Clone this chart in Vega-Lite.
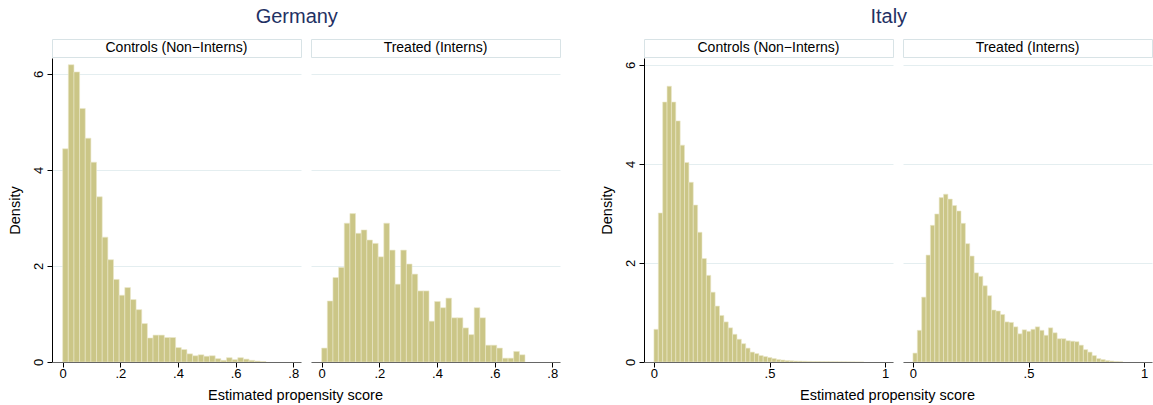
{
  "$schema": "https://vega.github.io/schema/vega-lite/v6.json",
  "background": "white",
  "padding": {"left": 7, "top": 6, "right": 0, "bottom": 2},
  "config": {
    "font": "Liberation Sans",
    "view": {"stroke": null},
    "axis": {
      "labelFont": "Liberation Sans", "titleFont": "Liberation Sans",
      "labelFontSize": 13, "titleFontSize": 14.5, "titleFontWeight": "normal",
      "labelColor": "#000000", "titleColor": "#000000",
      "tickColor": "#000000", "domainColor": "#000000", "tickSize": 5,
      "gridColor": "#e4eef0", "gridWidth": 1, "labelFlush": false, "labelOverlap": false
    },
    "title": {"font": "Liberation Sans", "fontSize": 20, "fontWeight": "normal", "color": "#1f3164"}
  },
  "datasets": {
    "hist": [
      {"country": "Germany", "group": "Controls", "bin_start": 0, "bin_end": 0.0196, "density": 4.44},
      {"country": "Germany", "group": "Controls", "bin_start": 0.0196, "bin_end": 0.0392, "density": 6.19},
      {"country": "Germany", "group": "Controls", "bin_start": 0.0392, "bin_end": 0.0588, "density": 6.04},
      {"country": "Germany", "group": "Controls", "bin_start": 0.0588, "bin_end": 0.0784, "density": 5.28},
      {"country": "Germany", "group": "Controls", "bin_start": 0.0784, "bin_end": 0.098, "density": 4.66},
      {"country": "Germany", "group": "Controls", "bin_start": 0.098, "bin_end": 0.1176, "density": 4.16},
      {"country": "Germany", "group": "Controls", "bin_start": 0.1176, "bin_end": 0.1372, "density": 3.44},
      {"country": "Germany", "group": "Controls", "bin_start": 0.1372, "bin_end": 0.1568, "density": 2.6},
      {"country": "Germany", "group": "Controls", "bin_start": 0.1568, "bin_end": 0.1764, "density": 2.13},
      {"country": "Germany", "group": "Controls", "bin_start": 0.1764, "bin_end": 0.196, "density": 1.72},
      {"country": "Germany", "group": "Controls", "bin_start": 0.196, "bin_end": 0.2156, "density": 1.39},
      {"country": "Germany", "group": "Controls", "bin_start": 0.2156, "bin_end": 0.2352, "density": 1.55},
      {"country": "Germany", "group": "Controls", "bin_start": 0.2352, "bin_end": 0.2548, "density": 1.3},
      {"country": "Germany", "group": "Controls", "bin_start": 0.2548, "bin_end": 0.2744, "density": 1.09},
      {"country": "Germany", "group": "Controls", "bin_start": 0.2744, "bin_end": 0.294, "density": 0.8},
      {"country": "Germany", "group": "Controls", "bin_start": 0.294, "bin_end": 0.3136, "density": 0.5},
      {"country": "Germany", "group": "Controls", "bin_start": 0.3136, "bin_end": 0.3332, "density": 0.56},
      {"country": "Germany", "group": "Controls", "bin_start": 0.3332, "bin_end": 0.3528, "density": 0.56},
      {"country": "Germany", "group": "Controls", "bin_start": 0.3528, "bin_end": 0.3724, "density": 0.51},
      {"country": "Germany", "group": "Controls", "bin_start": 0.3724, "bin_end": 0.392, "density": 0.51},
      {"country": "Germany", "group": "Controls", "bin_start": 0.392, "bin_end": 0.4116, "density": 0.3},
      {"country": "Germany", "group": "Controls", "bin_start": 0.4116, "bin_end": 0.4312, "density": 0.26},
      {"country": "Germany", "group": "Controls", "bin_start": 0.4312, "bin_end": 0.4508, "density": 0.17},
      {"country": "Germany", "group": "Controls", "bin_start": 0.4508, "bin_end": 0.4704, "density": 0.13},
      {"country": "Germany", "group": "Controls", "bin_start": 0.4704, "bin_end": 0.49, "density": 0.15},
      {"country": "Germany", "group": "Controls", "bin_start": 0.49, "bin_end": 0.5096, "density": 0.12},
      {"country": "Germany", "group": "Controls", "bin_start": 0.5096, "bin_end": 0.5292, "density": 0.13},
      {"country": "Germany", "group": "Controls", "bin_start": 0.5292, "bin_end": 0.5488, "density": 0.07},
      {"country": "Germany", "group": "Controls", "bin_start": 0.5488, "bin_end": 0.5684, "density": 0.035},
      {"country": "Germany", "group": "Controls", "bin_start": 0.5684, "bin_end": 0.588, "density": 0.09},
      {"country": "Germany", "group": "Controls", "bin_start": 0.588, "bin_end": 0.6076, "density": 0.05},
      {"country": "Germany", "group": "Controls", "bin_start": 0.6076, "bin_end": 0.6272, "density": 0.09},
      {"country": "Germany", "group": "Controls", "bin_start": 0.6272, "bin_end": 0.6468, "density": 0.06},
      {"country": "Germany", "group": "Controls", "bin_start": 0.6468, "bin_end": 0.6664, "density": 0.035},
      {"country": "Germany", "group": "Controls", "bin_start": 0.6664, "bin_end": 0.686, "density": 0.02},
      {"country": "Germany", "group": "Controls", "bin_start": 0.686, "bin_end": 0.7056, "density": 0.01},

      {"country": "Germany", "group": "Treated", "bin_start": 0, "bin_end": 0.0196, "density": 0.29},
      {"country": "Germany", "group": "Treated", "bin_start": 0.0196, "bin_end": 0.0392, "density": 1.27},
      {"country": "Germany", "group": "Treated", "bin_start": 0.0392, "bin_end": 0.0588, "density": 1.76},
      {"country": "Germany", "group": "Treated", "bin_start": 0.0588, "bin_end": 0.0784, "density": 1.97},
      {"country": "Germany", "group": "Treated", "bin_start": 0.0784, "bin_end": 0.098, "density": 2.89},
      {"country": "Germany", "group": "Treated", "bin_start": 0.098, "bin_end": 0.1176, "density": 3.09},
      {"country": "Germany", "group": "Treated", "bin_start": 0.1176, "bin_end": 0.1372, "density": 2.68},
      {"country": "Germany", "group": "Treated", "bin_start": 0.1372, "bin_end": 0.1568, "density": 2.75},
      {"country": "Germany", "group": "Treated", "bin_start": 0.1568, "bin_end": 0.1764, "density": 2.54},
      {"country": "Germany", "group": "Treated", "bin_start": 0.1764, "bin_end": 0.196, "density": 2.47},
      {"country": "Germany", "group": "Treated", "bin_start": 0.196, "bin_end": 0.2156, "density": 2.19},
      {"country": "Germany", "group": "Treated", "bin_start": 0.2156, "bin_end": 0.2352, "density": 2.89},
      {"country": "Germany", "group": "Treated", "bin_start": 0.2352, "bin_end": 0.2548, "density": 2.33},
      {"country": "Germany", "group": "Treated", "bin_start": 0.2548, "bin_end": 0.2744, "density": 1.62},
      {"country": "Germany", "group": "Treated", "bin_start": 0.2744, "bin_end": 0.294, "density": 2.33},
      {"country": "Germany", "group": "Treated", "bin_start": 0.294, "bin_end": 0.3136, "density": 2.04},
      {"country": "Germany", "group": "Treated", "bin_start": 0.3136, "bin_end": 0.3332, "density": 1.83},
      {"country": "Germany", "group": "Treated", "bin_start": 0.3332, "bin_end": 0.3528, "density": 1.48},
      {"country": "Germany", "group": "Treated", "bin_start": 0.3528, "bin_end": 0.3724, "density": 1.48},
      {"country": "Germany", "group": "Treated", "bin_start": 0.3724, "bin_end": 0.392, "density": 0.85},
      {"country": "Germany", "group": "Treated", "bin_start": 0.392, "bin_end": 0.4116, "density": 1.26},
      {"country": "Germany", "group": "Treated", "bin_start": 0.4116, "bin_end": 0.4312, "density": 1.13},
      {"country": "Germany", "group": "Treated", "bin_start": 0.4312, "bin_end": 0.4508, "density": 1.33},
      {"country": "Germany", "group": "Treated", "bin_start": 0.4508, "bin_end": 0.4704, "density": 0.92},
      {"country": "Germany", "group": "Treated", "bin_start": 0.4704, "bin_end": 0.49, "density": 0.92},
      {"country": "Germany", "group": "Treated", "bin_start": 0.49, "bin_end": 0.5096, "density": 0.71},
      {"country": "Germany", "group": "Treated", "bin_start": 0.5096, "bin_end": 0.5292, "density": 0.57},
      {"country": "Germany", "group": "Treated", "bin_start": 0.5292, "bin_end": 0.5488, "density": 1.13},
      {"country": "Germany", "group": "Treated", "bin_start": 0.5488, "bin_end": 0.5684, "density": 0.92},
      {"country": "Germany", "group": "Treated", "bin_start": 0.5684, "bin_end": 0.588, "density": 0.35},
      {"country": "Germany", "group": "Treated", "bin_start": 0.588, "bin_end": 0.6076, "density": 0.35},
      {"country": "Germany", "group": "Treated", "bin_start": 0.6076, "bin_end": 0.6272, "density": 0.29},
      {"country": "Germany", "group": "Treated", "bin_start": 0.6272, "bin_end": 0.6468, "density": 0.08},
      {"country": "Germany", "group": "Treated", "bin_start": 0.6468, "bin_end": 0.6664, "density": 0.08},
      {"country": "Germany", "group": "Treated", "bin_start": 0.6664, "bin_end": 0.686, "density": 0.22},
      {"country": "Germany", "group": "Treated", "bin_start": 0.686, "bin_end": 0.7056, "density": 0.15},

      {"country": "Italy", "group": "Controls", "bin_start": 0, "bin_end": 0.0189, "density": 0.66},
      {"country": "Italy", "group": "Controls", "bin_start": 0.0189, "bin_end": 0.0378, "density": 3.01},
      {"country": "Italy", "group": "Controls", "bin_start": 0.0378, "bin_end": 0.0567, "density": 5.25},
      {"country": "Italy", "group": "Controls", "bin_start": 0.0567, "bin_end": 0.0756, "density": 5.57},
      {"country": "Italy", "group": "Controls", "bin_start": 0.0756, "bin_end": 0.0945, "density": 5.25},
      {"country": "Italy", "group": "Controls", "bin_start": 0.0945, "bin_end": 0.1134, "density": 4.87},
      {"country": "Italy", "group": "Controls", "bin_start": 0.1134, "bin_end": 0.1323, "density": 4.38},
      {"country": "Italy", "group": "Controls", "bin_start": 0.1323, "bin_end": 0.1512, "density": 4.03},
      {"country": "Italy", "group": "Controls", "bin_start": 0.1512, "bin_end": 0.1701, "density": 3.63},
      {"country": "Italy", "group": "Controls", "bin_start": 0.1701, "bin_end": 0.189, "density": 3.17},
      {"country": "Italy", "group": "Controls", "bin_start": 0.189, "bin_end": 0.2079, "density": 2.62},
      {"country": "Italy", "group": "Controls", "bin_start": 0.2079, "bin_end": 0.2268, "density": 2.09},
      {"country": "Italy", "group": "Controls", "bin_start": 0.2268, "bin_end": 0.2457, "density": 1.75},
      {"country": "Italy", "group": "Controls", "bin_start": 0.2457, "bin_end": 0.2646, "density": 1.41},
      {"country": "Italy", "group": "Controls", "bin_start": 0.2646, "bin_end": 0.2835, "density": 1.13},
      {"country": "Italy", "group": "Controls", "bin_start": 0.2835, "bin_end": 0.3024, "density": 0.94},
      {"country": "Italy", "group": "Controls", "bin_start": 0.3024, "bin_end": 0.3213, "density": 0.81},
      {"country": "Italy", "group": "Controls", "bin_start": 0.3213, "bin_end": 0.3402, "density": 0.69},
      {"country": "Italy", "group": "Controls", "bin_start": 0.3402, "bin_end": 0.3591, "density": 0.56},
      {"country": "Italy", "group": "Controls", "bin_start": 0.3591, "bin_end": 0.378, "density": 0.46},
      {"country": "Italy", "group": "Controls", "bin_start": 0.378, "bin_end": 0.3969, "density": 0.37},
      {"country": "Italy", "group": "Controls", "bin_start": 0.3969, "bin_end": 0.4158, "density": 0.28},
      {"country": "Italy", "group": "Controls", "bin_start": 0.4158, "bin_end": 0.4347, "density": 0.2},
      {"country": "Italy", "group": "Controls", "bin_start": 0.4347, "bin_end": 0.4536, "density": 0.17},
      {"country": "Italy", "group": "Controls", "bin_start": 0.4536, "bin_end": 0.4725, "density": 0.13},
      {"country": "Italy", "group": "Controls", "bin_start": 0.4725, "bin_end": 0.4914, "density": 0.11},
      {"country": "Italy", "group": "Controls", "bin_start": 0.4914, "bin_end": 0.5103, "density": 0.09},
      {"country": "Italy", "group": "Controls", "bin_start": 0.5103, "bin_end": 0.5292, "density": 0.07},
      {"country": "Italy", "group": "Controls", "bin_start": 0.5292, "bin_end": 0.5481, "density": 0.05},
      {"country": "Italy", "group": "Controls", "bin_start": 0.5481, "bin_end": 0.567, "density": 0.04},
      {"country": "Italy", "group": "Controls", "bin_start": 0.567, "bin_end": 0.5859, "density": 0.03},
      {"country": "Italy", "group": "Controls", "bin_start": 0.5859, "bin_end": 0.6048, "density": 0.025},
      {"country": "Italy", "group": "Controls", "bin_start": 0.6048, "bin_end": 0.6237, "density": 0.02},
      {"country": "Italy", "group": "Controls", "bin_start": 0.6237, "bin_end": 0.6426, "density": 0.018},
      {"country": "Italy", "group": "Controls", "bin_start": 0.6426, "bin_end": 0.6615, "density": 0.015},
      {"country": "Italy", "group": "Controls", "bin_start": 0.6615, "bin_end": 0.6804, "density": 0.012},
      {"country": "Italy", "group": "Controls", "bin_start": 0.6804, "bin_end": 0.6993, "density": 0.01},
      {"country": "Italy", "group": "Controls", "bin_start": 0.6993, "bin_end": 0.7182, "density": 0.01},
      {"country": "Italy", "group": "Controls", "bin_start": 0.7182, "bin_end": 0.7371, "density": 0.008},
      {"country": "Italy", "group": "Controls", "bin_start": 0.7371, "bin_end": 0.756, "density": 0.007},
      {"country": "Italy", "group": "Controls", "bin_start": 0.756, "bin_end": 0.7749, "density": 0.006},
      {"country": "Italy", "group": "Controls", "bin_start": 0.7749, "bin_end": 0.7938, "density": 0.005},
      {"country": "Italy", "group": "Controls", "bin_start": 0.7938, "bin_end": 0.8127, "density": 0.004},
      {"country": "Italy", "group": "Controls", "bin_start": 0.8127, "bin_end": 0.8316, "density": 0.003},
      {"country": "Italy", "group": "Controls", "bin_start": 0.8316, "bin_end": 0.8505, "density": 0.002},
      {"country": "Italy", "group": "Controls", "bin_start": 0.8505, "bin_end": 0.8694, "density": 0.001},
      {"country": "Italy", "group": "Controls", "bin_start": 0.8694, "bin_end": 0.8883, "density": 0},
      {"country": "Italy", "group": "Controls", "bin_start": 0.8883, "bin_end": 0.9072, "density": 0},

      {"country": "Italy", "group": "Treated", "bin_start": 0, "bin_end": 0.0189, "density": 0.18},
      {"country": "Italy", "group": "Treated", "bin_start": 0.0189, "bin_end": 0.0378, "density": 0.64},
      {"country": "Italy", "group": "Treated", "bin_start": 0.0378, "bin_end": 0.0567, "density": 1.31},
      {"country": "Italy", "group": "Treated", "bin_start": 0.0567, "bin_end": 0.0756, "density": 2.16},
      {"country": "Italy", "group": "Treated", "bin_start": 0.0756, "bin_end": 0.0945, "density": 2.76},
      {"country": "Italy", "group": "Treated", "bin_start": 0.0945, "bin_end": 0.1134, "density": 2.99},
      {"country": "Italy", "group": "Treated", "bin_start": 0.1134, "bin_end": 0.1323, "density": 3.32},
      {"country": "Italy", "group": "Treated", "bin_start": 0.1323, "bin_end": 0.1512, "density": 3.39},
      {"country": "Italy", "group": "Treated", "bin_start": 0.1512, "bin_end": 0.1701, "density": 3.29},
      {"country": "Italy", "group": "Treated", "bin_start": 0.1701, "bin_end": 0.189, "density": 3.16},
      {"country": "Italy", "group": "Treated", "bin_start": 0.189, "bin_end": 0.2079, "density": 3.05},
      {"country": "Italy", "group": "Treated", "bin_start": 0.2079, "bin_end": 0.2268, "density": 2.8},
      {"country": "Italy", "group": "Treated", "bin_start": 0.2268, "bin_end": 0.2457, "density": 2.39},
      {"country": "Italy", "group": "Treated", "bin_start": 0.2457, "bin_end": 0.2646, "density": 2.14},
      {"country": "Italy", "group": "Treated", "bin_start": 0.2646, "bin_end": 0.2835, "density": 1.8},
      {"country": "Italy", "group": "Treated", "bin_start": 0.2835, "bin_end": 0.3024, "density": 1.73},
      {"country": "Italy", "group": "Treated", "bin_start": 0.3024, "bin_end": 0.3213, "density": 1.54},
      {"country": "Italy", "group": "Treated", "bin_start": 0.3213, "bin_end": 0.3402, "density": 1.34},
      {"country": "Italy", "group": "Treated", "bin_start": 0.3402, "bin_end": 0.3591, "density": 1.05},
      {"country": "Italy", "group": "Treated", "bin_start": 0.3591, "bin_end": 0.378, "density": 1.03},
      {"country": "Italy", "group": "Treated", "bin_start": 0.378, "bin_end": 0.3969, "density": 0.96},
      {"country": "Italy", "group": "Treated", "bin_start": 0.3969, "bin_end": 0.4158, "density": 0.81},
      {"country": "Italy", "group": "Treated", "bin_start": 0.4158, "bin_end": 0.4347, "density": 0.8},
      {"country": "Italy", "group": "Treated", "bin_start": 0.4347, "bin_end": 0.4536, "density": 0.71},
      {"country": "Italy", "group": "Treated", "bin_start": 0.4536, "bin_end": 0.4725, "density": 0.57},
      {"country": "Italy", "group": "Treated", "bin_start": 0.4725, "bin_end": 0.4914, "density": 0.65},
      {"country": "Italy", "group": "Treated", "bin_start": 0.4914, "bin_end": 0.5103, "density": 0.62},
      {"country": "Italy", "group": "Treated", "bin_start": 0.5103, "bin_end": 0.5292, "density": 0.66},
      {"country": "Italy", "group": "Treated", "bin_start": 0.5292, "bin_end": 0.5481, "density": 0.71},
      {"country": "Italy", "group": "Treated", "bin_start": 0.5481, "bin_end": 0.567, "density": 0.64},
      {"country": "Italy", "group": "Treated", "bin_start": 0.567, "bin_end": 0.5859, "density": 0.54},
      {"country": "Italy", "group": "Treated", "bin_start": 0.5859, "bin_end": 0.6048, "density": 0.69},
      {"country": "Italy", "group": "Treated", "bin_start": 0.6048, "bin_end": 0.6237, "density": 0.59},
      {"country": "Italy", "group": "Treated", "bin_start": 0.6237, "bin_end": 0.6426, "density": 0.47},
      {"country": "Italy", "group": "Treated", "bin_start": 0.6426, "bin_end": 0.6615, "density": 0.47},
      {"country": "Italy", "group": "Treated", "bin_start": 0.6615, "bin_end": 0.6804, "density": 0.43},
      {"country": "Italy", "group": "Treated", "bin_start": 0.6804, "bin_end": 0.6993, "density": 0.42},
      {"country": "Italy", "group": "Treated", "bin_start": 0.6993, "bin_end": 0.7182, "density": 0.41},
      {"country": "Italy", "group": "Treated", "bin_start": 0.7182, "bin_end": 0.7371, "density": 0.34},
      {"country": "Italy", "group": "Treated", "bin_start": 0.7371, "bin_end": 0.756, "density": 0.25},
      {"country": "Italy", "group": "Treated", "bin_start": 0.756, "bin_end": 0.7749, "density": 0.2},
      {"country": "Italy", "group": "Treated", "bin_start": 0.7749, "bin_end": 0.7938, "density": 0.13},
      {"country": "Italy", "group": "Treated", "bin_start": 0.7938, "bin_end": 0.8127, "density": 0.07},
      {"country": "Italy", "group": "Treated", "bin_start": 0.8127, "bin_end": 0.8316, "density": 0.05},
      {"country": "Italy", "group": "Treated", "bin_start": 0.8316, "bin_end": 0.8505, "density": 0.03},
      {"country": "Italy", "group": "Treated", "bin_start": 0.8505, "bin_end": 0.8694, "density": 0.02},
      {"country": "Italy", "group": "Treated", "bin_start": 0.8694, "bin_end": 0.8883, "density": 0.01},
      {"country": "Italy", "group": "Treated", "bin_start": 0.8883, "bin_end": 0.9072, "density": 0.005}
    ]
  },
  "spacing": 38,
  "hconcat": [
    {
      "title": {"text": "Germany", "anchor": "middle", "dx": 13, "offset": 12},
      "columns": 2,
      "bounds": "flush",
      "spacing": {"row": 1, "column": 10},
      "concat": [
        {
          "width": 249, "height": 18,
          "view": {"stroke": "#d8e3e6", "fill": "#ffffff"},
          "data": {"values": [{"label": "Controls (Non−Interns)"}]},
          "mark": {"type": "text", "fontSize": 14, "font": "Liberation Sans", "color": "#000000"},
          "encoding": {"text": {"field": "label"}}
        },
        {
          "width": 249, "height": 18,
          "view": {"stroke": "#d8e3e6", "fill": "#ffffff"},
          "data": {"values": [{"label": "Treated (Interns)"}]},
          "mark": {"type": "text", "fontSize": 14, "font": "Liberation Sans", "color": "#000000"},
          "encoding": {"text": {"field": "label"}}
        },
        {
          "width": 249, "height": 304,
          "data": {"name": "hist"},
          "transform": [{"filter": "datum.country === 'Germany' && datum.group === 'Controls'"}],
          "mark": {"type": "rect", "fill": "#cbc687", "stroke": "#ebe8c9", "strokeWidth": 0.6},
          "encoding": {
            "x": {"field": "bin_start", "type": "quantitative",
              "scale": {"domain": [-0.037, 0.827], "nice": false, "zero": false},
              "axis": {"values": [0, 0.2, 0.4, 0.6, 0.8], "labelExpr": "datum.value === 0 ? '0' : substring(format(datum.value, '.1f'), 1)",
                "title": "Estimated propensity score", "titleX": 243, "grid": false, "domainColor": "#666666", "labelPadding": 0, "titlePadding": 8, "zindex": 1}},
            "x2": {"field": "bin_end"},
            "y": {"field": "density", "type": "quantitative",
              "scale": {"domain": [0, 6.33], "nice": false},
              "axis": {"values": [0, 2, 4, 6], "labelAngle": -90, "labelAlign": "center", "labelBaseline": "alphabetic", "labelPadding": 5,
                "title": "Density", "titlePadding": 10, "grid": true}},
            "y2": {"datum": 0}
          }
        },
        {
          "width": 249, "height": 304,
          "data": {"name": "hist"},
          "transform": [{"filter": "datum.country === 'Germany' && datum.group === 'Treated'"}],
          "mark": {"type": "rect", "fill": "#cbc687", "stroke": "#ebe8c9", "strokeWidth": 0.6},
          "encoding": {
            "x": {"field": "bin_start", "type": "quantitative",
              "scale": {"domain": [-0.037, 0.827], "nice": false, "zero": false},
              "axis": {"values": [0, 0.2, 0.4, 0.6, 0.8], "labelExpr": "datum.value === 0 ? '0' : substring(format(datum.value, '.1f'), 1)",
                "title": null, "grid": false, "domainColor": "#666666", "labelPadding": 0, "zindex": 1}},
            "x2": {"field": "bin_end"},
            "y": {"field": "density", "type": "quantitative",
              "scale": {"domain": [0, 6.33], "nice": false},
              "axis": {"values": [0, 2, 4, 6], "labels": false, "ticks": false, "domain": false, "title": null, "grid": true}},
            "y2": {"datum": 0}
          }
        }
      ]
    },
    {
      "title": {"text": "Italy", "anchor": "middle", "dx": 13, "offset": 12},
      "columns": 2,
      "bounds": "flush",
      "spacing": {"row": 1, "column": 10},
      "concat": [
        {
          "width": 249, "height": 18,
          "view": {"stroke": "#d8e3e6", "fill": "#ffffff"},
          "data": {"values": [{"label": "Controls (Non−Interns)"}]},
          "mark": {"type": "text", "fontSize": 14, "font": "Liberation Sans", "color": "#000000"},
          "encoding": {"text": {"field": "label"}}
        },
        {
          "width": 249, "height": 18,
          "view": {"stroke": "#d8e3e6", "fill": "#ffffff"},
          "data": {"values": [{"label": "Treated (Interns)"}]},
          "mark": {"type": "text", "fontSize": 14, "font": "Liberation Sans", "color": "#000000"},
          "encoding": {"text": {"field": "label"}}
        },
        {
          "width": 249, "height": 304,
          "data": {"name": "hist"},
          "transform": [{"filter": "datum.country === 'Italy' && datum.group === 'Controls'"}],
          "mark": {"type": "rect", "fill": "#cbc687", "stroke": "#ebe8c9", "strokeWidth": 0.6},
          "encoding": {
            "x": {"field": "bin_start", "type": "quantitative",
              "scale": {"domain": [-0.043, 1.034], "nice": false, "zero": false},
              "axis": {"values": [0, 0.5, 1], "labelExpr": "datum.value === 0 ? '0' : datum.value === 1 ? '1' : substring(format(datum.value, '.1f'), 1)",
                "title": "Estimated propensity score", "titleX": 243, "grid": false, "domainColor": "#666666", "labelPadding": 0, "titlePadding": 8, "zindex": 1}},
            "x2": {"field": "bin_end"},
            "y": {"field": "density", "type": "quantitative",
              "scale": {"domain": [0, 6.14], "nice": false},
              "axis": {"values": [0, 2, 4, 6], "labelAngle": -90, "labelAlign": "center", "labelBaseline": "alphabetic", "labelPadding": 5,
                "title": "Density", "titlePadding": 10, "grid": true}},
            "y2": {"datum": 0}
          }
        },
        {
          "width": 249, "height": 304,
          "data": {"name": "hist"},
          "transform": [{"filter": "datum.country === 'Italy' && datum.group === 'Treated'"}],
          "mark": {"type": "rect", "fill": "#cbc687", "stroke": "#ebe8c9", "strokeWidth": 0.6},
          "encoding": {
            "x": {"field": "bin_start", "type": "quantitative",
              "scale": {"domain": [-0.043, 1.034], "nice": false, "zero": false},
              "axis": {"values": [0, 0.5, 1], "labelExpr": "datum.value === 0 ? '0' : datum.value === 1 ? '1' : substring(format(datum.value, '.1f'), 1)",
                "title": null, "grid": false, "domainColor": "#666666", "labelPadding": 0, "zindex": 1}},
            "x2": {"field": "bin_end"},
            "y": {"field": "density", "type": "quantitative",
              "scale": {"domain": [0, 6.14], "nice": false},
              "axis": {"values": [0, 2, 4, 6], "labels": false, "ticks": false, "domain": false, "title": null, "grid": true}},
            "y2": {"datum": 0}
          }
        }
      ]
    }
  ]
}
